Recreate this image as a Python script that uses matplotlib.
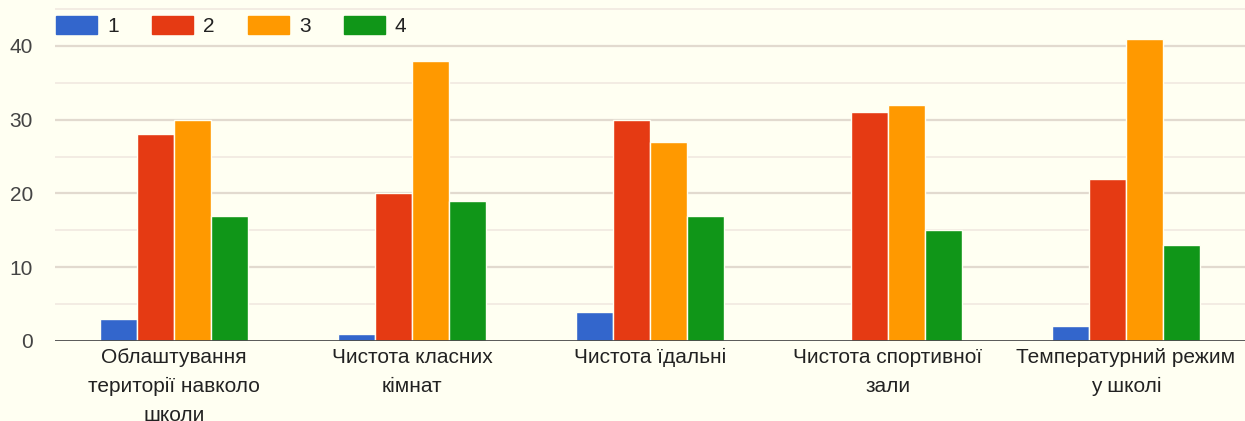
import numpy as np
import matplotlib.pyplot as plt
from matplotlib.patches import Patch

categories = [
    "Облаштування\nтериторії навколо\nшколи",
    "Чистота класних\nкімнат",
    "Чистота їдальні",
    "Чистота спортивної\nзали",
    "Температурний режим\nу школі",
]
series_names = ["1", "2", "3", "4"]
score_1 = [3, 1, 4, 0, 2]
score_2 = [28, 20, 30, 31, 22]
score_3 = [30, 38, 27, 32, 41]
score_4 = [17, 19, 17, 15, 13]
yticks = [0, 10, 20, 30, 40]

colors = ["#3366cc", "#e53a13", "#ff9900", "#109618"]
bg = "#fffff2"

plt.rcParams["font.family"] = ["Liberation Sans", "DejaVu Sans"]

W, H = 1245, 421
fig = plt.figure(figsize=(W / 100, H / 100), dpi=100, facecolor=bg)
ax = fig.add_axes([55 / W, (H - 341) / H, 1190 / W, 341 / H], facecolor=bg)

x = np.arange(len(categories))
bar_w = 0.155
series = [score_1, score_2, score_3, score_4]
for i, vals in enumerate(series):
    ax.bar(x + (i - 1.5) * bar_w, vals, width=bar_w, color=colors[i],
           edgecolor=bg, linewidth=1.0, zorder=3)

ax.set_xlim(-0.5, len(categories) - 0.5)
ax.set_ylim(0, 341 / 7.375)

# light grid: major every 10, minor every 5
for v in np.arange(5, 50, 5):
    major = v % 10 == 0
    ax.axhline(v, color="#e2dacf" if major else "#f2ebe2",
               lw=1.6 if major else 1.3, zorder=1)
ax.axhline(0, color="#4a4a4a", lw=2, zorder=4)

for s in ax.spines.values():
    s.set_visible(False)

ax.set_yticks(yticks)
ax.set_yticklabels([str(t) for t in yticks], fontsize=15, color="#444444")
ax.tick_params(axis="y", length=0, pad=16)
ax.set_xticks(x)
ax.set_xticklabels(categories, fontsize=15, color="#222222", linespacing=1.68)
ax.tick_params(axis="x", length=0, pad=5)

handles = [Patch(facecolor=c, edgecolor=c) for c in colors]
leg = ax.legend(handles, series_names, ncol=4, loc="upper left", frameon=False,
                bbox_to_anchor=(56 / W, 1 - 16 / H), bbox_transform=fig.transFigure,
                fontsize=15, handlelength=1.95, handleheight=0.95,
                handletextpad=0.5, columnspacing=1.6, borderpad=0,
                borderaxespad=0)
for t in leg.get_texts():
    t.set_color("#222222")

fig.savefig("out.png", dpi=100, facecolor=bg)
